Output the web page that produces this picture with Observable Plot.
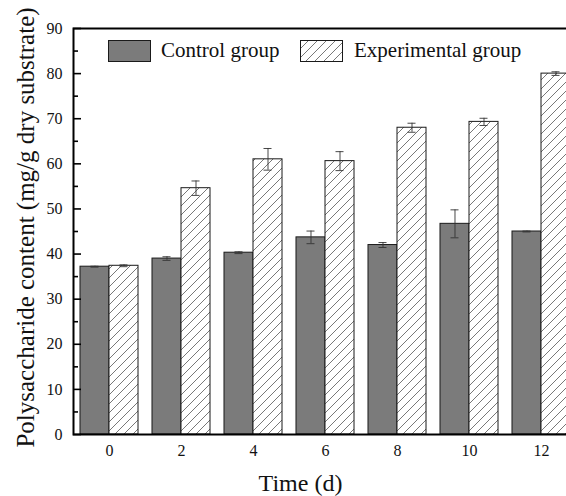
<!DOCTYPE html>
<html><head><meta charset="utf-8">
<script src="https://cdn.jsdelivr.net/npm/d3@7"></script>
<script src="https://cdn.jsdelivr.net/npm/@observablehq/plot@0.6"></script>
<style>
html,body{margin:0;padding:0;background:#fff;overflow:hidden;}
#wrap{position:relative;width:566px;height:496px;overflow:hidden;}
#wrap > svg{max-width:none !important;}
.leg{position:absolute;font-family:"Liberation Serif",serif;font-size:21px;color:#111;line-height:21px;white-space:nowrap;}
.sw{position:absolute;}
</style></head>
<body><div id="wrap"></div>
<script>
const times = ["0", "2", "4", "6", "8", "10", "12"];
const groups = ["Control group", "Experimental group"];
const controlMean = [37.2, 39.0, 40.3, 43.7, 42.0, 46.7, 45.0];
const controlErr = [0.1, 0.4, 0.2, 1.4, 0.55, 3.1, 0.1];
const expMean = [37.4, 54.6, 61.0, 60.6, 68.0, 69.3, 80.0];
const expErr = [0.2, 1.6, 2.4, 2.1, 1.0, 0.8, 0.4];
const yTicks = [0, 10, 20, 30, 40, 50, 60, 70, 80, 90];
const yMinorTicks = [5, 15, 25, 35, 45, 55, 65, 75, 85];
const xLabel = "Time (d)";
const yLabel = "Polysaccharide content (mg/g dry substrate)";

const rows = times.flatMap((t, i) => [
  {time: t, group: groups[0], value: controlMean[i], err: controlErr[i]},
  {time: t, group: groups[1], value: expMean[i], err: expErr[i]}
]);
const ctrlRows = rows.filter(d => d.group === groups[0]);
const expRows = rows.filter(d => d.group === groups[1]);

const svg = Plot.plot({
  width: 577, height: 496,
  marginLeft: 73, marginRight: 0, marginTop: 28, marginBottom: 62,
  style: {fontFamily: "Liberation Serif, serif", fontSize: "16px", color: "#111", background: "white", maxWidth: "none"},
  fx: {domain: times, padding: 0, round: false, label: null},
  x: {domain: groups, paddingInner: 0, paddingOuter: 0.241, round: false, axis: null},
  y: {domain: [0, 90], axis: null},
  marks: [
    Plot.barY(ctrlRows, {fx: "time", x: "group", y: "value", fill: "#7b7b7b", stroke: "#1a1a1a", strokeWidth: 1}),
    Plot.barY(expRows, {fx: "time", x: "group", y: "value", fill: "url(#hatch)", stroke: "#1a1a1a", strokeWidth: 1}),
    Plot.ruleX(rows, {fx: "time", x: "group", y1: d => d.value - d.err, y2: d => d.value + d.err, stroke: "#333", strokeWidth: 0.9}),
    Plot.tickY(rows, {fx: "time", x: "group", y: d => d.value + d.err, insetLeft: 10.5, insetRight: 10.5, stroke: "#333", strokeWidth: 0.9}),
    Plot.tickY(rows, {fx: "time", x: "group", y: d => d.value - d.err, insetLeft: 10.5, insetRight: 10.5, stroke: "#333", strokeWidth: 0.9}),
    Plot.frame({facet: "super", stroke: "#000", strokeWidth: 2}),
    Plot.axisY(yTicks, {anchor: "left", tickSize: 0, tickPadding: 11, label: null, fontSize: 16}),
    Plot.axisY(yTicks, {anchor: "left", tickSize: -8, fill: "none", label: null, stroke: "#000", strokeWidth: 1.6}),
    Plot.axisY(yMinorTicks, {anchor: "left", tickSize: -5, fill: "none", label: null, stroke: "#000", strokeWidth: 1.6}),
    Plot.axisFx({anchor: "bottom", tickSize: 0, tickPadding: 10, label: null, fontSize: 16}),
    Plot.text([xLabel], {facet: "super", frameAnchor: "bottom", dx: -25, dy: 56, fontSize: 24, fill: "#111"}),
    Plot.text([yLabel], {facet: "super", frameAnchor: "left", textAnchor: "middle", rotate: -90, dx: -48, dy: -4, fontSize: 25, fill: "#111"})
  ]
});

const defs = d3.select(svg).insert("defs", ":first-child");
const pat = defs.append("pattern").attr("id", "hatch").attr("patternUnits", "userSpaceOnUse").attr("width", 9).attr("height", 9);
pat.append("rect").attr("width", 9).attr("height", 9).attr("fill", "white");
pat.append("path").attr("d", "M0,9 L9,0 M-2,2 L2,-2 M7,11 L11,7").attr("stroke", "#555").attr("stroke-width", 0.8).attr("fill", "none");

const wrap = document.getElementById("wrap");
wrap.appendChild(svg);

// legend
function addSwatch(left, fill, id) {
  const s = d3.select(wrap).append("svg").attr("class", "sw")
    .style("left", left + "px").style("top", "40px").attr("width", 43).attr("height", 22);
  if (id) {
    const p = s.append("defs").append("pattern").attr("id", id).attr("patternUnits", "userSpaceOnUse").attr("width", 9).attr("height", 9);
    p.append("rect").attr("width", 9).attr("height", 9).attr("fill", "white");
    p.append("path").attr("d", "M0,9 L9,0 M-2,2 L2,-2 M7,11 L11,7").attr("stroke", "#555").attr("stroke-width", 0.8);
  }
  s.append("rect").attr("x", 0.5).attr("y", 0.5).attr("width", 42).attr("height", 21)
    .attr("fill", id ? `url(#${id})` : fill).attr("stroke", "#1a1a1a").attr("stroke-width", 1);
}
addSwatch(108, "#7b7b7b", null);
addSwatch(300, null, "hatch2");
function addText(left, txt) {
  d3.select(wrap).append("div").attr("class", "leg").style("left", left + "px").style("top", "40px").text(txt);
}
addText(161, groups[0]);
addText(354, groups[1]);
</script>
</body></html>
